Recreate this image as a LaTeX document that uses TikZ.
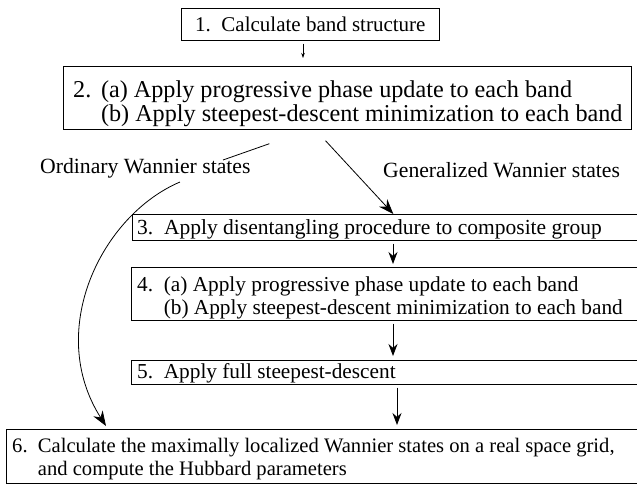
\documentclass[tikz,border=0pt]{standalone}
\usepackage{fontspec}
\setmainfont{Liberation Serif}
\usetikzlibrary{arrows.meta}
\begin{document}
\begin{tikzpicture}[x=1pt,y=-1pt,
  stepbox/.style={draw, line width=0.7pt, anchor=north west, inner sep=0pt},
  line/.style={anchor=base west, inner sep=0pt},
  wlabel/.style={anchor=west, inner sep=0pt, font=\fontsize{21.7}{24}\selectfont},
  thinarrow/.style={line width=0.6pt, -{Stealth[length=5pt,width=3.5pt]}},
  downarrow/.style={line width=0.8pt, -{Stealth[length=12pt,width=9pt]}},
  bigarrow/.style={line width=0.8pt, -{Stealth[length=15pt,width=11pt]}},
  branch/.style={line width=0.8pt}
]
\useasboundingbox (0,0) rectangle (637,483);
\clip (0,0) rectangle (637,483);

% frames of the six steps
\node[stepbox, minimum width=258pt, minimum height=32pt, font=\fontsize{21}{23}\selectfont]
  (b1) at (181,8) {1.\enspace Calculate band structure};
\node[stepbox, minimum width=568pt, minimum height=63pt] (b2) at (63,66) {};
\node[stepbox, minimum width=520pt, minimum height=26pt] (b3) at (132,214) {};
\node[stepbox, minimum width=520pt, minimum height=53pt] (b4) at (131,267) {};
\node[stepbox, minimum width=520pt, minimum height=24pt] (b5) at (131,360) {};
\node[stepbox, minimum width=640pt, minimum height=54pt] (b6) at (6,429) {};

% their texts
\begin{scope}[every node/.append style={font=\fontsize{24.2}{26}\selectfont}]
  \node[line] (t2a) at (73,97) {2.\hspace{0.4em}(a) Apply progressive phase update to each band};
  \node[line] (t2b) at (73,121) {\phantom{2.\hspace{0.4em}}(b) Apply steepest-descent minimization to each band};
\end{scope}
\node[line, font=\fontsize{21.5}{23}\selectfont] (t3) at (137,234)
  {3.\enspace Apply disentangling procedure to composite group};
\begin{scope}[every node/.append style={font=\fontsize{21.3}{23}\selectfont}]
  \node[line] (t4a) at (137,291.5) {4.\enspace(a) Apply progressive phase update to each band};
  \node[line] (t4b) at (137,314.5) {\phantom{4.\enspace}(b) Apply steepest-descent minimization to each band};
  \node[line] (t5) at (137,378.5) {5.\enspace Apply full steepest-descent};
\end{scope}
\begin{scope}[every node/.append style={font=\fontsize{20.6}{23}\selectfont}]
  \node[line] (t6a) at (12,452) {6.\enspace Calculate the maximally localized Wannier states on a real space grid,};
  \node[line] (t6b) at (12,475) {\phantom{6.\enspace}and compute the Hubbard parameters};
\end{scope}

% branch labels
\node[wlabel] (lo) at (40,168) {Ordinary Wannier states};
\node[wlabel] (lg) at (383,170) {Generalized Wannier states};

% columns for the vertical arrows
\coordinate (c1) at (303,0);
\coordinate (c2) at (393,0);
\coordinate (c3) at (397,0);

\draw[thinarrow, shorten <=3pt, shorten >=8pt] (b1.south -| c1) -- (b2.north -| c1);
\draw[downarrow, shorten <=3pt, shorten >=3pt] (b3.south -| c2) -- (b4.north -| c2);
\draw[downarrow, shorten <=3pt, shorten >=4pt] (b4.south -| c2) -- (b5.north -| c2);
\draw[downarrow, shorten <=3pt, shorten >=4pt] (b5.south -| c3) -- (b6.north -| c3);

% generalized branch
\draw[bigarrow, shorten <=15pt] ([xshift=-32pt]b2.south) -- ([xshift=1pt]b3.north);

% ordinary branch, interrupted by its label
\coordinate (o1) at ([xshift=-78pt,yshift=-14pt]b2.south);
\coordinate (o2) at (223,160);
\draw[branch] (o1) -- (o2);
\coordinate (o3) at (180,182);
\draw[bigarrow] (o3) .. controls (102,215) and (45,330) .. ([xshift=100pt,yshift=3pt]b6.north west);
\end{tikzpicture}
\end{document}
